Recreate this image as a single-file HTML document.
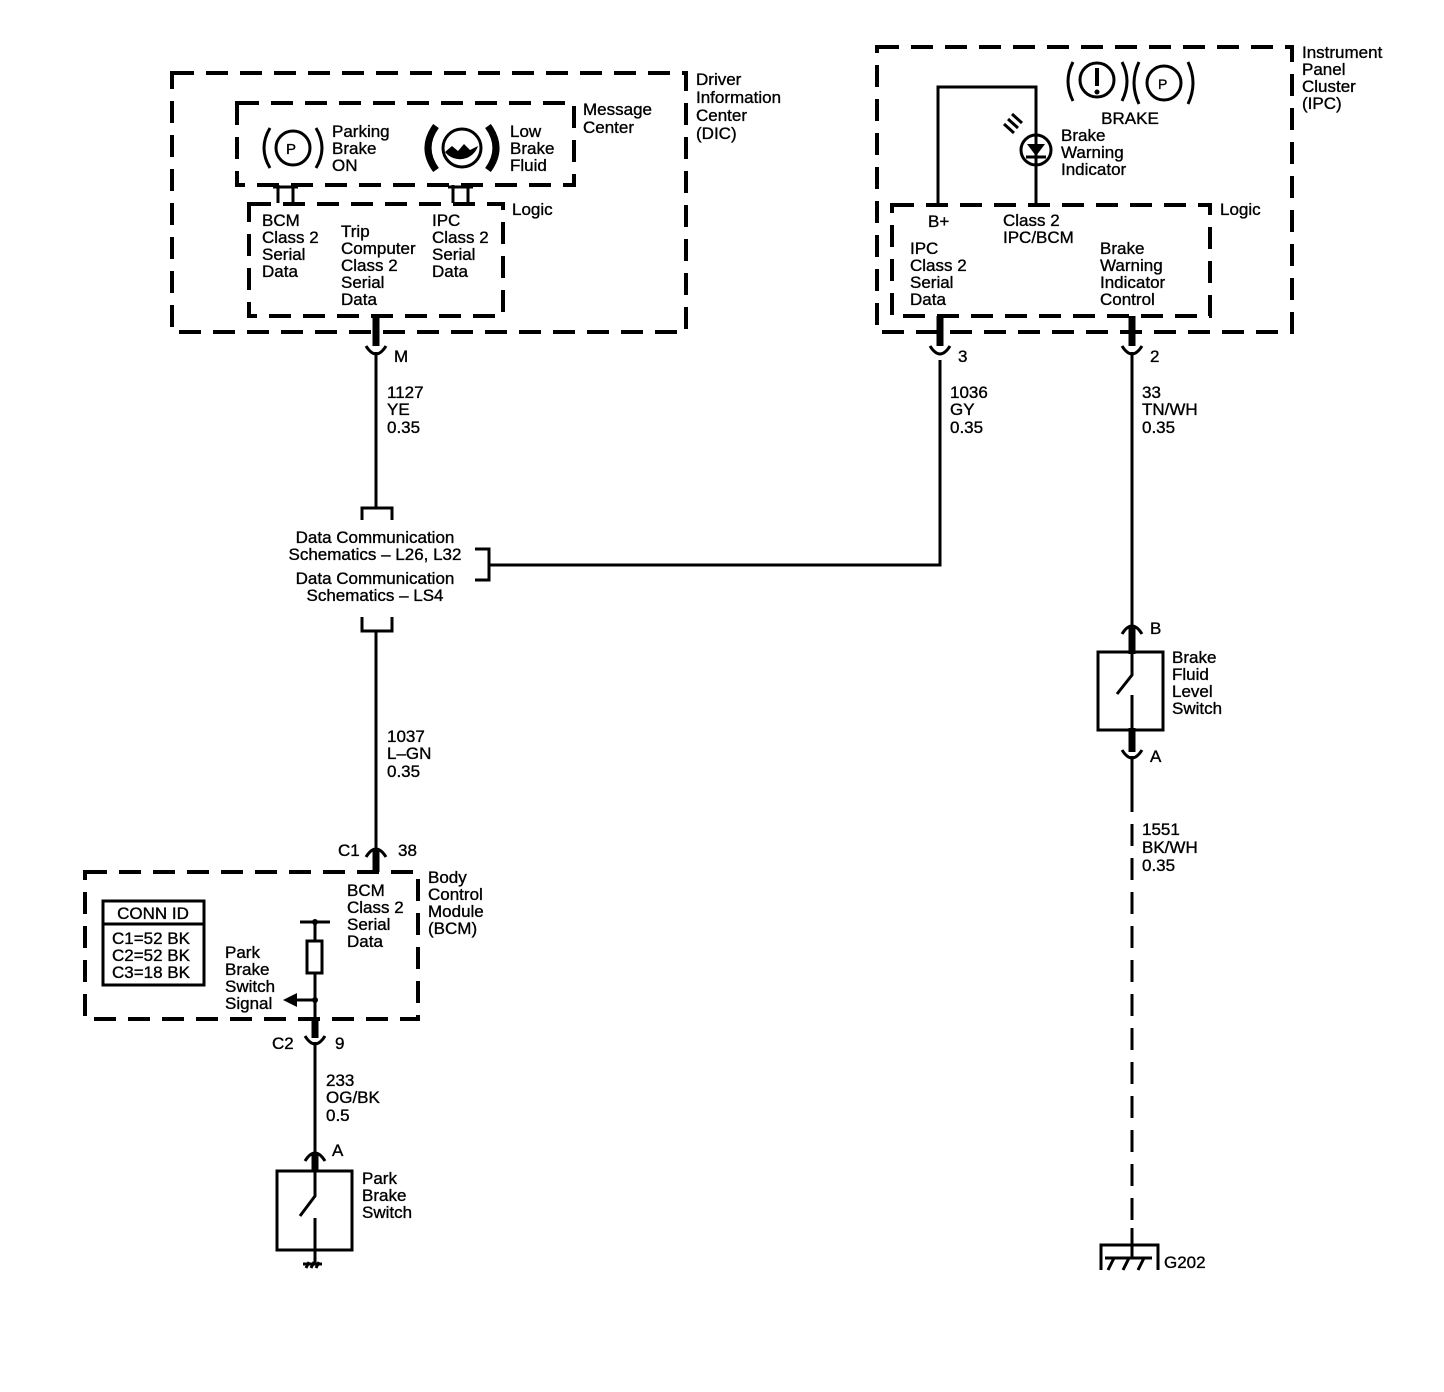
<!DOCTYPE html>
<html><head><meta charset="utf-8"><style>
html,body{margin:0;padding:0;background:#fff;}
svg{display:block}
text{font-family:"Liberation Sans",Arial,sans-serif;font-size:17px;fill:#000;stroke:#000;stroke-width:0.35;}
.d{fill:none;stroke:#000;stroke-width:4;stroke-dasharray:22 12;}
.l{fill:none;stroke:#000;stroke-width:3;}
.t{fill:none;stroke:#000;stroke-width:7;}
</style></head><body>
<svg width="1444" height="1392" viewBox="0 0 1444 1392" xmlns="http://www.w3.org/2000/svg">
<!-- DIC -->
<rect class="d" x="172" y="73" width="514" height="259"/>
<text x="696" y="85">Driver</text><text x="696" y="103">Information</text><text x="696" y="121">Center</text><text x="696" y="139">(DIC)</text>
<rect class="d" x="237" y="103" width="337" height="82"/>
<text x="583" y="115">Message</text><text x="583" y="133">Center</text>
<rect class="d" x="249" y="204" width="254" height="112"/>
<text x="512" y="215">Logic</text>
<path class="l" d="M278 185V203M293 185V203M273 187H298M453 185V203M468 185V203M448 187H473"/>
<circle class="l" cx="293" cy="148" r="17"/>
<text x="286" y="154" style="font-size:15px">P</text>
<path class="l" d="M270 128Q258 148 270 168M316 128Q328 148 316 168"/>
<text x="332" y="137">Parking</text><text x="332" y="154">Brake</text><text x="332" y="171">ON</text>
<circle class="l" cx="462" cy="148" r="19" stroke-width="4"/>
<path d="M445 152L452 146L458 151L464 144L470 150L478 146A19 19 0 0 1 445 152Z" fill="#000"/>
<path d="M436 126Q420 148 436 170" stroke="#000" stroke-width="7" fill="none"/>
<path d="M488 126Q504 148 488 170" stroke="#000" stroke-width="7" fill="none"/>
<text x="510" y="137">Low</text><text x="510" y="154">Brake</text><text x="510" y="171">Fluid</text>
<text x="262" y="226">BCM</text><text x="262" y="243">Class 2</text><text x="262" y="260">Serial</text><text x="262" y="277">Data</text>
<text x="341" y="237">Trip</text><text x="341" y="254">Computer</text><text x="341" y="271">Class 2</text><text x="341" y="288">Serial</text><text x="341" y="305">Data</text>
<text x="432" y="226">IPC</text><text x="432" y="243">Class 2</text><text x="432" y="260">Serial</text><text x="432" y="277">Data</text>
<!-- wire M -->
<path class="t" d="M376 316V346"/>
<path class="l" d="M366 346Q376 362 386 346M376 352V508"/>
<text x="394" y="362">M</text>
<text x="387" y="398">1127</text><text x="387" y="415">YE</text><text x="387" y="433">0.35</text>
<path class="l" d="M362 520V508H392V520"/>
<text x="375" y="543" text-anchor="middle">Data Communication</text>
<text x="375" y="560" text-anchor="middle">Schematics – L26, L32</text>
<text x="375" y="584" text-anchor="middle">Data Communication</text>
<text x="375" y="601" text-anchor="middle">Schematics – LS4</text>
<path class="l" d="M475 549H489V580H475M489 565H940V360"/>
<path class="l" d="M362 617V631H392V617M376 631V852"/>
<text x="387" y="742">1037</text><text x="387" y="759">L–GN</text><text x="387" y="777">0.35</text>
<path class="l" d="M366 857Q376 841 386 857"/>
<path class="t" d="M376 850V872"/>
<text x="338" y="856">C1</text><text x="398" y="856">38</text>
<!-- BCM -->
<rect class="d" x="85" y="872" width="333" height="147"/>
<text x="428" y="883">Body</text><text x="428" y="900">Control</text><text x="428" y="917">Module</text><text x="428" y="934">(BCM)</text>
<text x="347" y="896">BCM</text><text x="347" y="913">Class 2</text><text x="347" y="930">Serial</text><text x="347" y="947">Data</text>
<rect x="103" y="901" width="101" height="84" fill="none" stroke="#000" stroke-width="3"/>
<path class="l" d="M103 924H204"/>
<text x="153" y="919" text-anchor="middle">CONN ID</text>
<text x="112" y="944">C1=52 BK</text><text x="112" y="961">C2=52 BK</text><text x="112" y="978">C3=18 BK</text>
<path class="l" d="M300 922H330M315 922V941M315 973V1020"/>
<circle cx="315" cy="922" r="3"/><circle cx="315" cy="1000" r="3"/>
<rect x="307" y="941" width="15" height="32" fill="none" stroke="#000" stroke-width="3"/>
<path class="l" d="M315 1000H292"/><path d="M283 1000L297 993V1007Z"/>
<text x="225" y="958">Park</text><text x="225" y="975">Brake</text><text x="225" y="992">Switch</text><text x="225" y="1009">Signal</text>
<path class="t" d="M315 1019V1038"/>
<path class="l" d="M305 1036Q315 1052 325 1036M315 1042V1158"/>
<text x="272" y="1049">C2</text><text x="335" y="1049">9</text>
<text x="326" y="1086">233</text><text x="326" y="1103">OG/BK</text><text x="326" y="1121">0.5</text>
<path class="l" d="M305 1161Q315 1145 325 1161"/>
<path class="t" d="M315 1154V1172"/>
<text x="332" y="1156">A</text>
<rect x="277" y="1171" width="75" height="79" fill="none" stroke="#000" stroke-width="3"/>
<path class="l" d="M315 1172V1196L300 1216M315 1218V1265M303 1264H322M306 1268L309 1262M311 1268L314 1262M316 1268L319 1262"/>
<text x="362" y="1184">Park</text><text x="362" y="1201">Brake</text><text x="362" y="1218">Switch</text>
<!-- IPC -->
<rect class="d" x="877" y="47" width="415" height="285"/>
<text x="1302" y="58">Instrument</text><text x="1302" y="75">Panel</text><text x="1302" y="92">Cluster</text><text x="1302" y="109">(IPC)</text>
<circle class="l" cx="1097" cy="80" r="17"/>
<path d="M1097 68V86" stroke="#000" stroke-width="4"/><circle cx="1097" cy="92" r="2.5"/>
<circle class="l" cx="1164" cy="83" r="17"/>
<text x="1158" y="89" style="font-size:14px">P</text>
<path class="l" d="M1073 62Q1063 81 1073 101M1122 62Q1132 81 1122 101M1139 62Q1129 83 1139 104M1188 62Q1198 83 1188 104"/>
<text x="1130" y="124" text-anchor="middle">BRAKE</text>
<path class="l" d="M938 205V87H1036V205"/>
<circle class="l" cx="1036" cy="150" r="15"/>
<path d="M1027 144H1045L1036 156Z"/><path class="l" d="M1026 157H1046"/>
<path class="l" d="M1004 124L1014 133M1008 119L1018 128M1012 114L1022 123"/>
<text x="1061" y="141">Brake</text><text x="1061" y="158">Warning</text><text x="1061" y="175">Indicator</text>
<rect class="d" x="892" y="205" width="318" height="111"/>
<text x="1220" y="215">Logic</text>
<text x="928" y="227">B+</text>
<text x="1003" y="226">Class 2</text><text x="1003" y="243">IPC/BCM</text>
<text x="910" y="254">IPC</text><text x="910" y="271">Class 2</text><text x="910" y="288">Serial</text><text x="910" y="305">Data</text>
<text x="1100" y="254">Brake</text><text x="1100" y="271">Warning</text><text x="1100" y="288">Indicator</text><text x="1100" y="305">Control</text>
<path class="t" d="M940 316V346"/>
<path class="l" d="M930 346Q940 362 950 346"/>
<text x="958" y="362">3</text>
<text x="950" y="398">1036</text><text x="950" y="415">GY</text><text x="950" y="433">0.35</text>
<path class="t" d="M1132 316V346"/>
<path class="l" d="M1122 346Q1132 362 1142 346M1132 352V630"/>
<text x="1150" y="362">2</text>
<text x="1142" y="398">33</text><text x="1142" y="415">TN/WH</text><text x="1142" y="433">0.35</text>
<path class="l" d="M1122 634Q1132 618 1142 634"/>
<path class="t" d="M1132 628V654"/>
<text x="1150" y="634">B</text>
<rect x="1098" y="652" width="65" height="78" fill="none" stroke="#000" stroke-width="3"/>
<path class="l" d="M1132 654V675L1117 694M1132 695V730"/>
<text x="1172" y="663">Brake</text><text x="1172" y="680">Fluid</text><text x="1172" y="697">Level</text><text x="1172" y="714">Switch</text>
<path class="t" d="M1132 728V752"/>
<path class="l" d="M1122 750Q1132 766 1142 750M1132 756V790"/>
<text x="1150" y="762">A</text>
<path d="M1132 790V1245" stroke="#000" stroke-width="3" stroke-dasharray="22 12"/>
<text x="1142" y="835">1551</text><text x="1142" y="853">BK/WH</text><text x="1142" y="871">0.35</text>
<path class="l" d="M1132 1228V1258M1101 1270V1245H1158V1270M1105 1258H1152M1108 1270L1114 1258M1123 1270L1129 1258M1138 1270L1144 1258"/>
<text x="1164" y="1268">G202</text>
</svg>
</body></html>
